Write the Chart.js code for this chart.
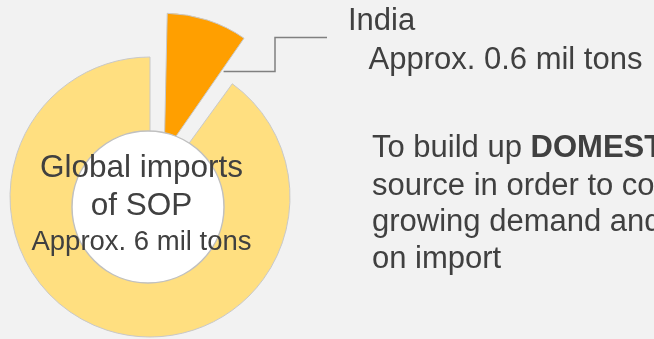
<!DOCTYPE html>
<html>
<head>
<meta charset="utf-8">
<script src="https://cdn.jsdelivr.net/npm/chart.js@4"></script>
<style>
  html, body { margin: 0; padding: 0; background: #f2f2f2; overflow: hidden; }
  #wrap { position: relative; width: 654px; height: 339px; }
</style>
</head>
<body>
<div id="wrap"><canvas id="c" width="654" height="339"></canvas></div>
<script>
// Share of global SOP imports (million tons)
const categories = ['India', 'Rest of world'];
const importValues = [0.6, 5.4];
const sliceColors = ['#ff9f00', '#ffdf80'];

// Text inside the ring
const centerLines = ['Global imports', 'of SOP', 'Approx. 6 mil tons'];
// Callout for the highlighted slice
const calloutTitle = 'India';
const calloutValue = 'Approx. 0.6 mil tons';
const noteLines = [
  ['To build up ', 'DOMESTIC'],
  ['source in order to cope with the', ''],
  ['growing demand and reduce reliance', ''],
  ['on import', '']
];

const FONT = "'Liberation Sans', Arial, Helvetica, sans-serif";
const TEXT = '#404040';
// Chart.js arcs move out by a quarter of their offset option
const EXPLODE = 46;

// Keep the exploded slice at the same radius as the rest of the pie
// (Chart.js also grows narrow offset arcs outward by offset * (1 - sin(circumference))).
const keepRadius = {
  id: 'keepRadius',
  beforeDatasetsDraw(chart) {
    chart.getDatasetMeta(0).data.forEach(arc => {
      const off = (arc.options.offset || 0) / 4;
      if (!off) return;
      const fix = 1 - Math.sin(Math.min(Math.PI, arc.circumference));
      arc.outerRadius = chart.options.radius - off * fix;
    });
  }
};

const overlay = {
  id: 'overlay',
  afterDatasetsDraw(chart) {
    const ctx = chart.ctx;
    const meta = chart.getDatasetMeta(0);
    const india = meta.data[0];
    const cx = india.x, cy = india.y;

    // hub circle
    ctx.save();
    ctx.beginPath();
    ctx.arc(cx - 2, cy + 10, 76, 0, Math.PI * 2);
    ctx.fillStyle = '#ffffff';
    ctx.fill();
    ctx.lineWidth = 1.5;
    ctx.strokeStyle = '#c0c0c0';
    ctx.stroke();

    // labels in the hub
    ctx.fillStyle = TEXT;
    ctx.textAlign = 'center';
    ctx.textBaseline = 'alphabetic';
    ctx.font = '31.5px ' + FONT;
    ctx.fillText(centerLines[0], cx - 8.5, 177);
    ctx.fillText(centerLines[1], cx - 8.5, 215);
    ctx.font = '27.5px ' + FONT;
    ctx.fillText(centerLines[2], cx - 8.5, 250);

    // leader from the exploded slice to the callout
    const mid = (india.startAngle + india.endAngle) / 2;
    const ox = cx + Math.cos(mid) * EXPLODE;
    const oy = cy + Math.sin(mid) * EXPLODE;
    const sx = ox + Math.cos(india.endAngle) * 101;
    const sy = oy + Math.sin(india.endAngle) * 101;
    ctx.beginPath();
    ctx.moveTo(sx, sy);
    ctx.lineTo(275, sy);
    ctx.lineTo(275, 37.5);
    ctx.lineTo(327, 37.5);
    ctx.lineWidth = 1.5;
    ctx.strokeStyle = '#808080';
    ctx.stroke();

    // callout text
    ctx.textAlign = 'left';
    ctx.font = '31px ' + FONT;
    ctx.fillText(calloutTitle, 348, 30);
    ctx.fillText(calloutValue, 368.5, 68.5);

    const baselines = [157, 195, 231, 268];
    noteLines.forEach((parts, i) => {
      ctx.font = '31px ' + FONT;
      ctx.fillText(parts[0], 372, baselines[i]);
      if (parts[1]) {
        const w = ctx.measureText(parts[0]).width;
        ctx.font = 'bold 31px ' + FONT;
        ctx.fillText(parts[1], 372 + w, baselines[i]);
      }
    });
    ctx.restore();
  }
};

new Chart(document.getElementById('c'), {
  type: 'pie',
  data: {
    labels: categories,
    datasets: [{
      data: importValues,
      backgroundColor: sliceColors,
      borderColor: '#c8c8c8',
      borderWidth: 1,
      offset: [EXPLODE * 4, 0]
    }]
  },
  options: {
    responsive: false,
    animation: false,
    radius: 140,
    layout: { padding: { left: 0, right: 354, top: 55, bottom: 0 } },
    plugins: { legend: { display: false }, tooltip: { enabled: false } }
  },
  plugins: [keepRadius, overlay]
});
</script>
</body>
</html>
